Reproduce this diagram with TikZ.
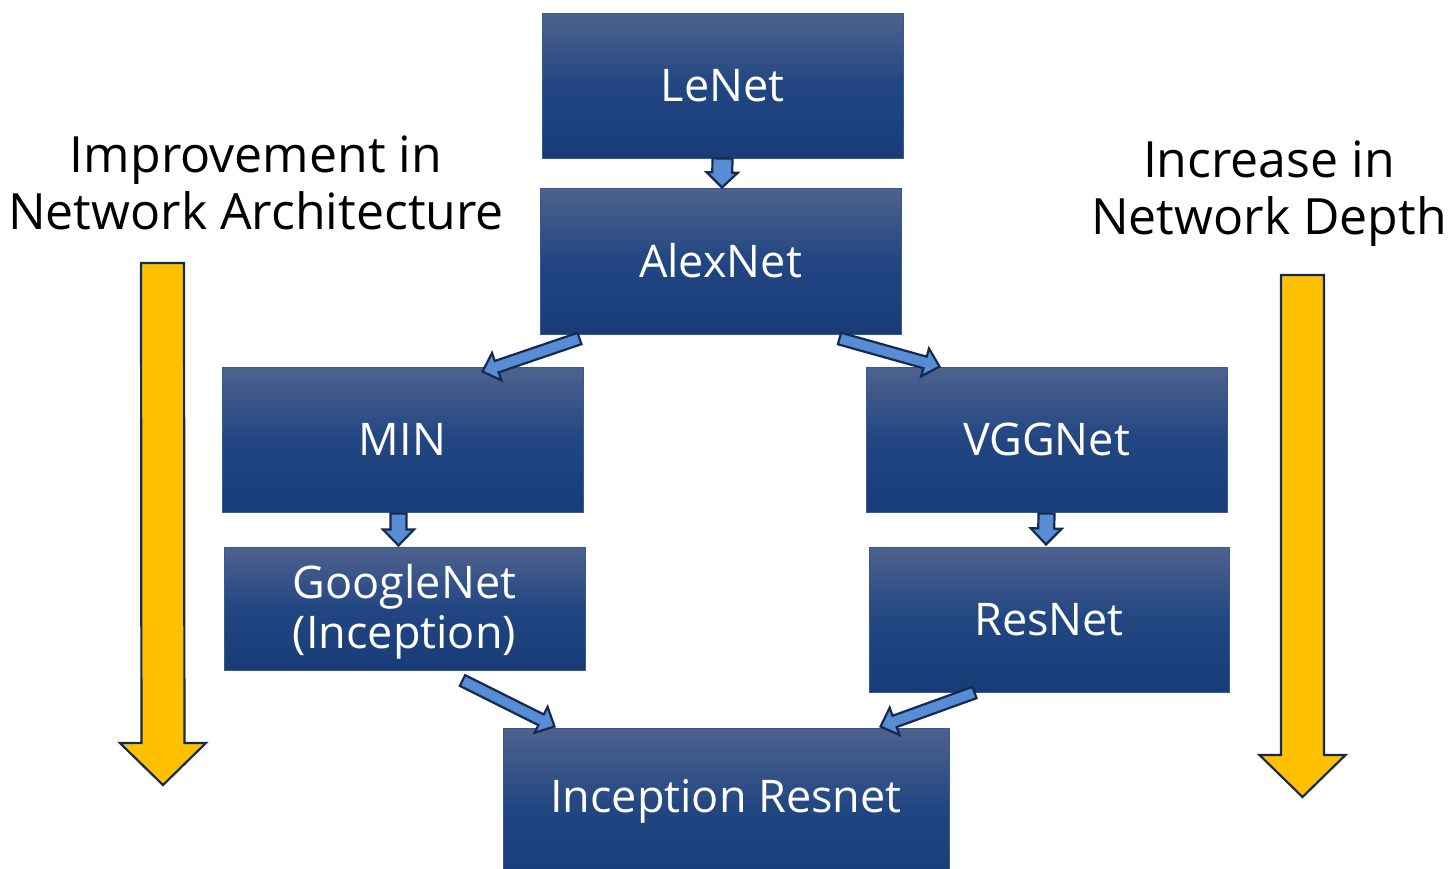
\documentclass[tikz,border=0pt]{standalone}
\usepackage{fontspec}
\setmainfont{Open Sans}
\usetikzlibrary{calc}

\definecolor{boxtop}{RGB}{78,98,142}
\definecolor{boxmid}{RGB}{34,70,130}
\definecolor{boxbot}{RGB}{24,60,120}
\definecolor{boxedge}{RGB}{58,88,140}
\definecolor{arrowblue}{RGB}{86,141,212}
\definecolor{navy}{RGB}{22,42,80}
\definecolor{gold}{RGB}{255,192,0}

\tikzset{
  netbox/.style={rectangle, draw=boxedge, line width=1pt,
    top color=boxtop, bottom color=boxbot, middle color=boxmid,
    text=white, font=\fontsize{45}{50}\selectfont, inner sep=0pt, align=center},
  boxlabel/.style={text=white, font=\fontsize{45}{50}\selectfont},
  title/.style={font=\fontsize{50}{57}\selectfont, align=center, text=black},
  bluearrow/.style={fill=arrowblue, draw=navy, line width=2.2pt, line join=miter},
  goldarrow/.style={fill=gold, draw=navy, line width=2.2pt, line join=miter},
}

% block arrow: #1 tail, #2 tip, #3 half shaft width, #4 half head width, #5 head length, #6 style
\newcommand\bkarrow[6]{%
  \coordinate (bk-base) at ($(#2)!#5!(#1)$);
  \draw[#6] ($(#1)!#3!90:(#2)$) -- ($(bk-base)!#3!-90:(#1)$)
    -- ($(bk-base)!#4!-90:(#1)$) -- (#2) -- ($(bk-base)!#4!90:(#1)$)
    -- ($(bk-base)!#3!90:(#1)$) -- ($(#1)!#3!-90:(#2)$) -- cycle;}

\begin{document}
\begin{tikzpicture}[x=1pt, y=-1pt]
\useasboundingbox (0,0) rectangle (1449,868);
\clip (0,0) rectangle (1449,868);

% network boxes
\node[netbox, minimum width=361pt, minimum height=145pt] (lenet) at (722.5,85.5) {LeNet};
\node[netbox, minimum width=361pt, minimum height=146pt] (alexnet) at (720.5,261) {AlexNet};
\node[netbox, minimum width=361pt, minimum height=145pt] (min) at (402.5,439.5) {MIN};
\node[netbox, minimum width=361pt, minimum height=145pt] (vggnet) at (1046.5,439.5) {VGGNet};
\node[netbox, minimum width=361pt, minimum height=123pt] (googlenet) at (404.5,608.5) {};
\node[boxlabel, align=center] (googlelabel) at (404.5,612) {GoogleNet\\(Inception)};
\node[netbox, minimum width=360pt, minimum height=145pt] (resnet) at (1049,619.5) {ResNet};
\node[netbox, minimum width=446pt, minimum height=160pt] (incres) at (726,808) {};
\node[boxlabel] (increslabel) at (726,801) {Inception Resnet};

% side titles
\node[title] (archtitle) at (256,183) {Improvement in\\Network Architecture};
\node[title] (depthtitle) at (1269,194) {Increase in\\Network Depth};

% connector end points
\coordinate (c1t) at ($(lenet.south)+(0,0)$);
\coordinate (c1h) at ($(alexnet.north)+(1.5,0)$);
\coordinate (c2t) at ($(alexnet.south west)+(40,4)$);
\coordinate (c2h) at ($(min.north west)+(261,5)$);
\coordinate (c3t) at ($(alexnet.south east)+(-62,4)$);
\coordinate (c3h) at ($(vggnet.north west)+(74,0)$);
\coordinate (c4t) at ($(min.south)+(-4,1)$);
\coordinate (c4h) at ($(googlenet.north)+(-6,-1)$);
\coordinate (c5t) at ($(vggnet.south)+(0,1)$);
\coordinate (c5h) at ($(resnet.north)+(-3,-2)$);
\coordinate (c6t) at ($(googlenet.south east)+(-123,10)$);
\coordinate (c6h) at ($(incres.north west)+(52,-1)$);
\coordinate (c7t) at ($(resnet.south west)+(106,0)$);
\coordinate (c7h) at ($(incres.north east)+(-69,-1)$);

% block arrows between boxes
\bkarrow{c1t}{c1h}{10pt}{15.5pt}{15pt}{bluearrow}
\bkarrow{c2t}{c2h}{6pt}{14.5pt}{15pt}{bluearrow}
\bkarrow{c3t}{c3h}{6pt}{14.5pt}{15pt}{bluearrow}
\bkarrow{c4t}{c4h}{8pt}{15.5pt}{16pt}{bluearrow}
\bkarrow{c5t}{c5h}{8pt}{15.5pt}{16pt}{bluearrow}
\bkarrow{c6t}{c6h}{6pt}{14.5pt}{15pt}{bluearrow}
\bkarrow{c7t}{c7h}{6pt}{14.5pt}{15pt}{bluearrow}

% side arrows
\coordinate (la-top) at (162.5,263);
\coordinate (la-tip) at (163,785);
\coordinate (ra-top) at (1302.5,275);
\coordinate (ra-tip) at (1302.5,797);
\bkarrow{la-top}{la-tip}{21.5pt}{43pt}{42pt}{goldarrow}
\bkarrow{ra-top}{ra-tip}{21.5pt}{43pt}{42pt}{goldarrow}
\end{tikzpicture}
\end{document}
